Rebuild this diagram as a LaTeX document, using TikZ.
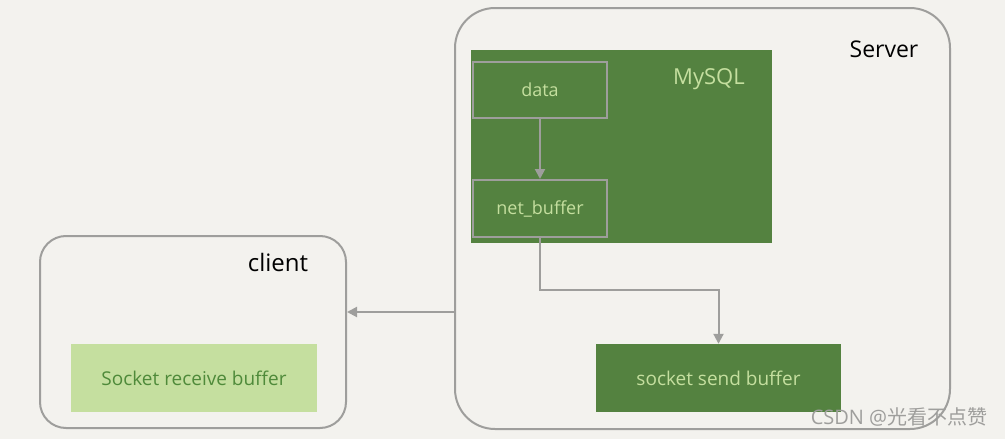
\documentclass[tikz,border=0pt]{standalone}
\usepackage{fontspec}
\setmainfont{Open Sans}
\newfontfamily\cjk{Noto Sans CJK SC}
\usetikzlibrary{arrows.meta,positioning}

\definecolor{paper}{HTML}{F3F2EE}
\definecolor{frame}{HTML}{9E9E9C}
\definecolor{darkgreen}{HTML}{548240}
\definecolor{lightgreen}{HTML}{C5DF9F}
\definecolor{inkgreen}{HTML}{4F8A3A}

\begin{document}
\begin{tikzpicture}[x=1pt,y=-1pt,
    host/.style={draw=frame,line width=2pt,fill=paper,rounded corners=#1},
    layer/.style={fill=darkgreen,inner sep=0pt},
    buf/.style={draw=frame,line width=2pt,fill=darkgreen,text=lightgreen,inner sep=0pt,font=\fontsize{18}{20}\selectfont},
    flow/.style={draw=frame,line width=2pt,-{Triangle[length=10pt,width=10pt]}}]
    \useasboundingbox[fill=paper] (0,0) rectangle (1005,439);

    % hosts
    \node (server) at (702.5,218.5) [host=40pt,minimum width=495pt,minimum height=421pt] {};
    \node (client) at (193,332) [host=26pt,minimum width=306pt,minimum height=192pt] {};
    \node at (884,49) {\fontsize{23}{26}\selectfont Server};
    \node at (278,262) {\fontsize{24}{26}\selectfont client};

    % mysql
    \node (mysql) at (621.5,146.5) [layer,minimum width=301pt,minimum height=193pt] {};
    \node at (709,79) [text=lightgreen] {\fontsize{22}{24}\selectfont MySQL};
    \node (data) at (540,90) [buf,minimum width=134pt,minimum height=56pt] {data};
    \node (net) at (540,208.5) [buf,minimum width=134pt,minimum height=57pt] {net\_buffer};

    % socket buffers
    \node (send) at (718.5,378) [layer,text=lightgreen,minimum width=245pt,minimum height=68pt,font=\fontsize{19}{21}\selectfont] {socket send buffer};
    \node (recv) at (194,378) [fill=lightgreen,text=inkgreen,inner sep=0pt,minimum width=246pt,minimum height=68pt,font=\fontsize{19}{21}\selectfont] {Socket receive buffer};

    \coordinate (bend) at (540,290);
    \coordinate (wire) at (400,312);

    \draw[flow] (data) -- (net);
    \draw[flow] (net) -- (bend) -| (send);
    \draw[flow] (server.west |- wire) -- (client.east |- wire);

    % watermark
    \node at (899,417) [text=frame] {\fontsize{20}{22}\selectfont CSDN @\cjk 光看不点赞};
\end{tikzpicture}
\end{document}
